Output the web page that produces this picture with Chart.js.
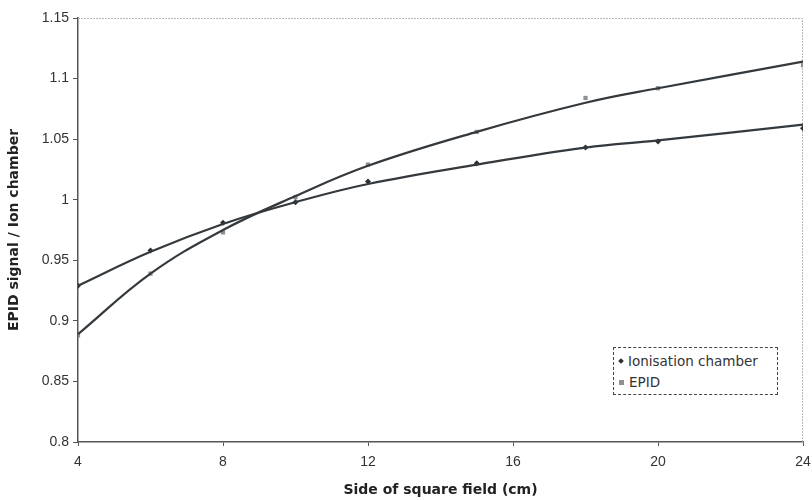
<!DOCTYPE html>
<html>
<head>
<meta charset="utf-8">
<script src="https://cdn.jsdelivr.net/npm/chart.js@4.4.1/dist/chart.umd.min.js"></script>
<style>
  html, body { margin: 0; padding: 0; background: #fff; }
  #wrap { position: relative; width: 812px; height: 500px; }
  #legend {
    position: absolute; left: 613px; top: 347px; width: 165px; height: 48px;
    border: 1px dashed #444; background: #fff;
    font-family: "DejaVu Sans", Verdana, sans-serif; font-size: 13.5px; color: #333;
    box-sizing: border-box; padding: 3px 0 0 5px; line-height: 21px;
  }
  #legend .mk { display: inline-block; width: 5px; height: 5px; margin-right: 5px; vertical-align: middle; position: relative; top: -1px; }
  #legend .ion { background: #2b3034; transform: rotate(45deg); width: 4px; height: 4px; }
  #legend .epid { background: #8c9196; }
</style>
</head>
<body>
<div id="wrap">
  <canvas id="fieldChart" width="812" height="500"></canvas>
  <div id="legend">
    <div><span class="mk ion"></span>Ionisation chamber</div>
    <div><span class="mk epid"></span>EPID</div>
  </div>
</div>
<script>
// field sizes (cm)
const fieldSizes = [4, 6, 8, 10, 12, 15, 18, 20, 24];

// measured ratios
const ionChamber = [0.929, 0.958, 0.981, 0.998, 1.015, 1.030, 1.043, 1.048, 1.059];
const epid = [0.888, 0.939, 0.973, 1.002, 1.029, 1.056, 1.084, 1.092, 1.111];

// fitted trend lines
const ionFit = [0.929, 0.957, 0.980, 0.998, 1.013, 1.029, 1.043, 1.049, 1.062];
const epidFit = [0.889, 0.939, 0.975, 1.003, 1.028, 1.056, 1.080, 1.092, 1.114];

const xTicks = [4, 8, 12, 16, 20, 24];
const yTicks = [0.8, 0.85, 0.9, 0.95, 1, 1.05, 1.1, 1.15];

const pts = (ys) => fieldSizes.map((x, i) => ({ x: x, y: ys[i] }));

// light frame on top / right of the plot area
const frame = {
    id: 'frame',
    beforeDatasetsDraw(chart) {
        const a = chart.chartArea, c = chart.ctx;
        c.save();
        c.strokeStyle = '#b5b8bb';
        c.lineWidth = 1;
        c.setLineDash([2, 1]);
        c.beginPath();
        c.moveTo(a.left, a.top + 0.5);
        c.lineTo(a.right - 0.5, a.top + 0.5);
        c.lineTo(a.right - 0.5, a.bottom);
        c.stroke();
        c.restore();
    }
};

const lineColor = '#34393d';

new Chart(document.getElementById('fieldChart'), {
    type: 'scatter',
    data: {
        datasets: [
            {
                label: 'Ionisation chamber fit',
                data: pts(ionFit),
                showLine: true,
                borderColor: lineColor,
                borderWidth: 2.2,
                pointRadius: 0,
                tension: 0.4
            },
            {
                label: 'EPID fit',
                data: pts(epidFit),
                showLine: true,
                borderColor: lineColor,
                borderWidth: 2.2,
                pointRadius: 0,
                tension: 0.4
            },
            {
                label: 'Ionisation chamber',
                data: pts(ionChamber),
                pointStyle: 'rectRot',
                pointRadius: 3,
                backgroundColor: '#2b3034',
                borderColor: '#2b3034',
                borderWidth: 0
            },
            {
                label: 'EPID',
                data: pts(epid),
                pointStyle: 'rect',
                pointRadius: 3,
                backgroundColor: '#8c9196',
                borderColor: '#8c9196',
                borderWidth: 0
            }
        ]
    },
    options: {
        responsive: false,
        animation: false,
        layout: { padding: { top: 18, right: 9, left: 0, bottom: 0 } },
        plugins: {
            legend: { display: false },
            tooltip: { enabled: false }
        },
        scales: {
            x: {
                type: 'linear',
                min: 4,
                max: 24,
                afterBuildTicks: (s) => { s.ticks = xTicks.map(v => ({ value: v })); },
                afterFit: (s) => { s.height = 58; s.paddingLeft = 0; s.paddingRight = 0; },
                grid: { display: true, drawOnChartArea: false, tickLength: 4, color: '#555' },
                border: { display: true, color: '#555', width: 1.5 },
                ticks: {
                    color: '#333',
                    padding: 8,
                    font: { family: 'Liberation Sans', size: 14 }
                },
                title: {
                    display: true,
                    text: 'Side of square field (cm)',
                    color: '#222',
                    padding: { top: 0, bottom: 1 },
                    font: { family: 'DejaVu Sans', size: 14, weight: 'bold' }
                }
            },
            y: {
                min: 0.8,
                max: 1.15,
                afterBuildTicks: (s) => { s.ticks = yTicks.map(v => ({ value: v })); },
                afterFit: (s) => { s.width = 78; },
                grid: { display: true, drawOnChartArea: false, tickLength: 5, color: '#555' },
                border: { display: true, color: '#555', width: 1.5 },
                ticks: {
                    color: '#333',
                    padding: 4,
                    font: { family: 'Liberation Sans', size: 14 },
                    callback: (v) => String(Math.round(v * 100) / 100)
                },
                title: {
                    display: true,
                    text: 'EPID signal / Ion chamber',
                    color: '#222',
                    padding: { top: 6, bottom: 0 },
                    font: { family: 'DejaVu Sans', size: 14, weight: 'bold' }
                }
            }
        }
    },
    plugins: [frame]
});
</script>
</body>
</html>
